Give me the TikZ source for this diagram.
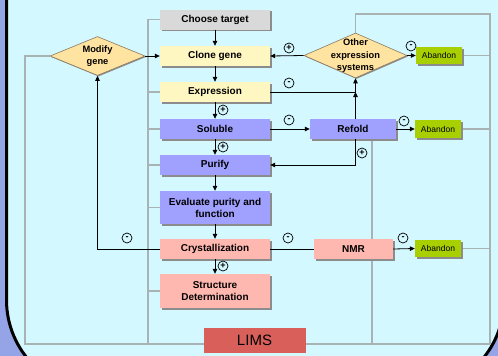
\documentclass[tikz,border=0pt]{standalone}
\usepackage{fontspec}
\setmainfont{Liberation Sans}
\usetikzlibrary{shapes.geometric,arrows.meta,shadows}
\definecolor{outerblue}{HTML}{94A4E6}
\definecolor{bgcyan}{HTML}{D4F8FF}
\definecolor{graybox}{HTML}{D9D9D9}
\definecolor{yellowbox}{HTML}{FFF7C2}
\definecolor{purplebox}{HTML}{A0A0FF}
\definecolor{pinkbox}{HTML}{FFB8B0}
\definecolor{greenbox}{HTML}{A8D000}
\definecolor{limsred}{HTML}{D9605A}
\definecolor{diafill}{HTML}{FFE3A0}
\definecolor{diaedge}{HTML}{8A7A60}
\definecolor{linegray}{HTML}{A9B3B3}
\definecolor{shadowgray}{HTML}{8C8C8C}
\pgfdeclarelayer{bg}
\pgfdeclarelayer{lines}
\pgfsetlayers{bg,lines,main}
\tikzset{
  shd/.style={drop shadow={shadow xshift=1.6pt, shadow yshift=-1.6pt, fill=shadowgray, opacity=1}},
  box/.style={shd, minimum width=110pt, minimum height=20pt, inner sep=1pt, align=center,
    font=\bfseries\fontsize{10}{12}\selectfont},
  abandon/.style={shd, fill=greenbox, minimum width=46pt, minimum height=17pt, inner sep=1pt,
    font=\fontsize{8.5}{10}\selectfont},
  dia/.style={diamond, draw=diaedge, line width=0.6pt, fill=diafill, inner sep=0pt,
    drop shadow={shadow xshift=1pt, shadow yshift=-1pt, fill=shadowgray, opacity=1}},
  diatext/.style={align=center, font=\bfseries\fontsize{9.3}{12.5}\selectfont, inner sep=0pt},
  arr/.style={line width=0.8pt, -{Triangle[length=5pt,width=4.5pt]}},
  conn/.style={line width=0.8pt},
  gline/.style={draw=linegray, line width=1.2pt},
  sgn/.style={circle, draw, line width=0.7pt, minimum size=10pt, inner sep=0pt,
    font=\bfseries\fontsize{9}{9}\selectfont},
}
\begin{document}
\begin{tikzpicture}[x=1pt,y=-1pt]
\useasboundingbox (0,0) rectangle (498,356);
\clip (0,0) rectangle (498,356);
\begin{pgfonlayer}{bg}
\fill[outerblue] (0,0) rectangle (498,356);
\draw[line width=3pt, fill=bgcyan, rounded corners=92pt] (6.5,-200) rectangle (504,392);
\end{pgfonlayer}

% main column
\node[box, fill=graybox]   (choose)  at (215,19.5) {Choose target};
\node[box, fill=yellowbox] (clone)   at (215,56)   {Clone gene};
\node[box, fill=yellowbox] (expr)    at (215,92)   {Expression};
\node[box, fill=purplebox] (soluble) at (215,129)  {Soluble};
\node[box, fill=purplebox] (purify)  at (215,165)  {Purify};
\node[box, fill=purplebox, minimum height=33pt] (eval) at (215,207.5) {Evaluate purity and\\function};
\node[box, fill=pinkbox]   (crys)    at (215,249)  {Crystallization};
\node[box, fill=pinkbox, minimum height=34pt] (struct) at (215,291) {Structure\\Determination};

% right side
\node[box, fill=purplebox, minimum width=86pt] (refold) at (353,129) {Refold};
\node[box, fill=pinkbox, minimum width=79pt]   (nmr)    at (353.5,249) {NMR};
\node[abandon] (ab1) at (439,55.5) {Abandon};
\node[abandon, minimum height=18pt] (ab2) at (438,129) {Abandon};
\node[abandon] (ab3) at (438,248.5) {Abandon};

% diamonds
\node[dia, minimum width=95pt, minimum height=39pt] (modify) at (97.5,56) {};
\node[diatext] (modifytxt) at (97.5,56) {Modify\\gene};
\node[dia, minimum width=103pt, minimum height=45pt] (other) at (355.5,55.5) {};
\node[diatext] (othertxt) at (355.5,56) {Other\\expression\\systems};

% LIMS
\node[fill=limsred, minimum width=102pt, minimum height=25pt, inner sep=0pt,
      font=\fontsize{15}{16}\selectfont] (lims) at (254.5,340.5) {LIMS};

% gray lines
\begin{pgfonlayer}{lines}
\coordinate (BL) at (25,344);
\coordinate (BR) at (490,344);
\coordinate (TR) at (490,14);
\coordinate (L1) at (148,344);
\coordinate (R2) at (372,344);
\draw[gline] (modify.west) -- (BL |- modify.west) -- (BL) -- (BR) -- (TR) -- (other.north |- TR) -- (other.north);
\draw[gline] (choose.west) -- (choose.west -| L1) -- (L1);
\draw[gline] (expr.west) -- (expr.west -| L1);
\draw[gline] (soluble.west) -- (soluble.west -| L1);
\draw[gline] (purify.west) -- (purify.west -| L1);
\draw[gline] (eval.west) -- (eval.west -| L1);
\draw[gline] (struct.west) -- (struct.west -| L1);
\draw[gline] (ab1.east) -- (ab1.east -| TR);
\draw[gline] (ab2.east) -- (ab2.east -| TR);
\draw[gline] (ab3.east) -- (ab3.east -| TR);
\draw[gline] (R2 |- refold.south) -- (R2);
\end{pgfonlayer}

% black connectors
\draw[arr] (choose) -- (clone);
\draw[arr] (clone) -- (expr);
\draw[arr] (expr) -- (soluble);
\draw[arr] (soluble) -- (purify);
\draw[arr] (purify) -- (eval);
\draw[arr] (eval) -- (crys);
\draw[arr] (crys) -- (struct);
\draw[arr] (modify.east) -- (clone.west);
\draw[arr] (other.west) -- (clone.east);
\draw[arr] (other.east) -- (ab1.west);
\coordinate (J) at (355.5,92);
\draw[conn] (expr.east) -- (J);
\draw[arr] (J) -- (other.south);
\draw[arr] (J |- refold.north) -- (J);
\draw[arr] (soluble.east) -- (refold.west);
\draw[arr] (refold.east) -- (ab2.west);
\draw[arr] (J |- refold.south) -- (J |- purify.east) -- (purify.east);
\draw[conn] (crys.east) -- (nmr.west);
\draw[arr] (nmr.east) -- (ab3.west);
\draw[arr] (crys.west) -| (modify.south);

% signs
\node[sgn] (s1)  at (289,48)  {+};
\node[sgn] (s2)  at (411,46)  {-};
\node[sgn] (s3)  at (289,83)  {-};
\node[sgn] (s4)  at (289,120) {-};
\node[sgn] (s5)  at (404,121) {-};
\node[sgn] (s6)  at (362,153) {+};
\node[sgn] (s7)  at (223,110) {+};
\node[sgn] (s8)  at (223,147) {+};
\node[sgn] (s9)  at (223,266) {+};
\node[sgn] (s10) at (127,238) {-};
\node[sgn] (s11) at (288,238) {-};
\node[sgn] (s12) at (403,238) {-};
\end{tikzpicture}
\end{document}
